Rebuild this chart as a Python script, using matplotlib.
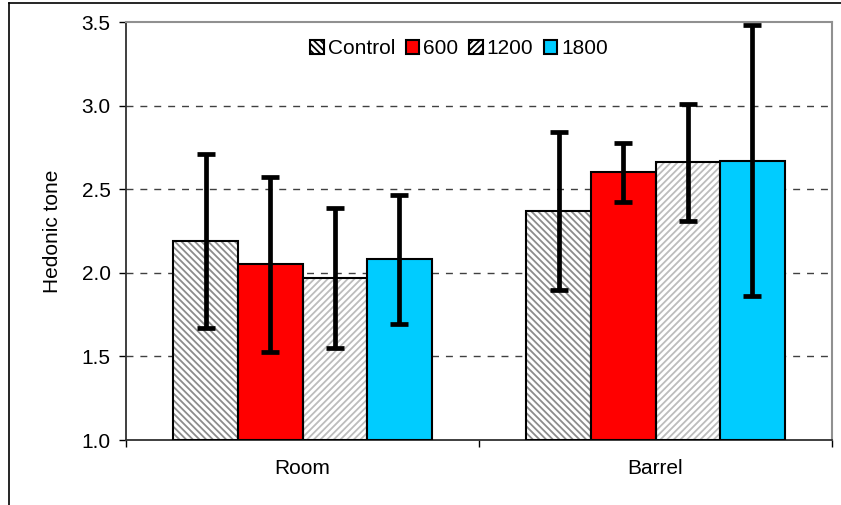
import matplotlib.pyplot as plt
import numpy as np
from matplotlib.lines import Line2D

plt.rcParams["font.family"] = ["Liberation Sans", "DejaVu Sans"]
plt.rcParams["hatch.linewidth"] = 1.3

# 数据
groups = ["Room", "Barrel"]
series = ["Control", "600", "1200", "1800"]
means = {
    "Control": [2.19, 2.37],
    "600": [2.05, 2.60],
    "1200": [1.97, 2.66],
    "1800": [2.08, 2.67],
}
errs = {
    "Control": [0.52, 0.47],
    "600": [0.525, 0.175],
    "1200": [0.42, 0.35],
    "1800": [0.385, 0.81],
}

# 样式：填充色 / 斜线 / 斜线颜色
styles = {
    "Control": ("white", "\\\\\\\\\\", "#8c8c8c"),
    "600": ("#ff0000", None, None),
    "1200": ("white", "/////", "#bdbdbd"),
    "1800": ("#00ccff", None, None),
}

fig = plt.figure(figsize=(8.41, 5.05), dpi=100)
ax = fig.add_axes([126 / 841, 1 - 440 / 505, (832 - 126) / 841, (440 - 22) / 505])

x = np.arange(len(groups))
w = 0.183
offsets = [-1.5 * w, -0.5 * w, 0.5 * w, 1.5 * w]

handles = []
for name, off in zip(series, offsets):
    face, hatch, hcol = styles[name]
    vals = np.array(means[name])
    bottom = 1.0
    if hatch:
        # 先画斜线层，再画黑边框
        ax.bar(x + off, vals - bottom, w, bottom=bottom, color=face,
               hatch=hatch, edgecolor=hcol, linewidth=0, zorder=2)
        ax.bar(x + off, vals - bottom, w, bottom=bottom, fill=False,
               edgecolor="black", linewidth=1.5, zorder=3)
    else:
        ax.bar(x + off, vals - bottom, w, bottom=bottom, color=face,
               edgecolor="black", linewidth=1.5, zorder=3)
    ax.errorbar(x + off, vals, yerr=errs[name], fmt="none", ecolor="black",
                elinewidth=3.4, capsize=6.5, capthick=3.4, zorder=4)
    handles.append(plt.Rectangle((0, 0), 1, 1, facecolor=face,
                                 hatch=hatch, edgecolor="black", linewidth=1.5))

ax.set_xlim(-0.5, 1.5)
ax.set_ylim(1.0, 3.5)
ax.set_yticks([1.0, 1.5, 2.0, 2.5, 3.0, 3.5])
ax.set_yticklabels(["1.0", "1.5", "2.0", "2.5", "3.0", "3.5"])
ax.set_xticks(x)
ax.set_xticklabels(groups)
ax.set_xticks([-0.5, 0.5, 1.5], minor=True)
ax.tick_params(axis="x", which="major", length=0, pad=14, labelsize=15)
ax.tick_params(axis="x", which="minor", length=5, width=1, direction="out")
ax.tick_params(axis="y", length=5, width=1, direction="out", pad=6, labelsize=15)
ax.set_ylabel("Hedonic tone", fontsize=15, labelpad=14)

# 虚线网格
for yv in [1.5, 2.0, 2.5, 3.0]:
    ax.axhline(yv, color="#404040", linestyle=(0, (5, 5)), linewidth=1, zorder=1)

for s in ["top", "right"]:
    ax.spines[s].set_color("#909090")
    ax.spines[s].set_linewidth(1.5)
for s in ["left", "bottom"]:
    ax.spines[s].set_color("#303030")
    ax.spines[s].set_linewidth(1.3)

ax.legend(handles, series, loc="upper center", bbox_to_anchor=(0.472, 1.003),
          ncol=4, frameon=False, fontsize=15, handlelength=0.65,
          handleheight=0.65, handletextpad=0.2, columnspacing=0.5)

# 外边框
fig.add_artist(Line2D([9 / 841, 1], [1 - 3 / 505, 1 - 3 / 505], color="black", linewidth=1.2))
fig.add_artist(Line2D([9 / 841, 9 / 841], [0, 1 - 3 / 505], color="black", linewidth=1.2))

fig.savefig("out.png", dpi=100)
